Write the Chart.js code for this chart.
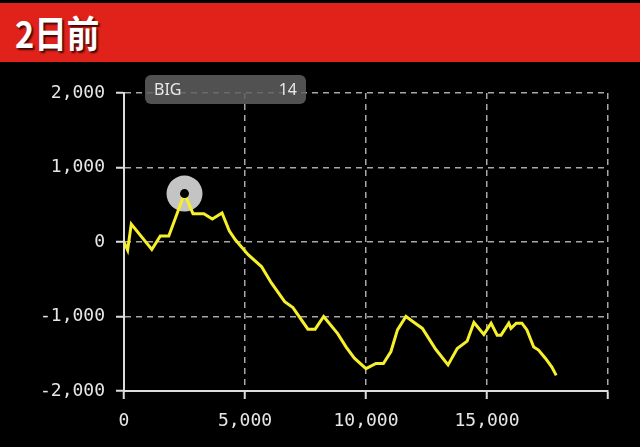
<!DOCTYPE html>
<html><head><meta charset="utf-8">
<script src="https://cdn.jsdelivr.net/npm/chart.js@4"></script>
<style>
html,body{margin:0;padding:0;background:#000;width:640px;height:447px;overflow:hidden;}
#hdr{position:absolute;left:0;top:3px;width:640px;height:59px;background:#e0221a;}
#ttl{position:absolute;left:15px;top:11px;color:#fff;font-weight:bold;font-size:37px;font-family:"Noto Sans CJK JP",sans-serif;transform:scaleX(0.88);transform-origin:left top;text-shadow:2px 2px 2px rgba(0,0,0,0.75);line-height:1;}
#wrap{position:absolute;left:0;top:62px;width:640px;height:385px;}
</style></head>
<body>
<div id="hdr"><div id="ttl">2日前</div></div>
<div id="wrap"><canvas id="c"></canvas></div>
<script>
const games = [0,150,300,1150,1500,1850,2500,2850,3300,3650,4050,4350,4600,5130,5680,6090,6640,6980,7600,7900,8250,8830,9180,9520,10000,10410,10720,11030,11300,11650,11990,12330,12880,13390,13770,14180,14460,14870,15170,15420,15580,15900,15990,16210,16440,16650,16930,17130,17410,17680,17860];
const diff = [0,-110,240,-100,80,80,650,380,380,310,390,150,30,-170,-330,-550,-800,-880,-1170,-1170,-1000,-1230,-1410,-1560,-1700,-1630,-1630,-1470,-1180,-1000,-1080,-1160,-1440,-1650,-1430,-1330,-1080,-1240,-1090,-1250,-1250,-1090,-1160,-1090,-1090,-1180,-1410,-1450,-1560,-1680,-1790];
const xTicks = [0,5000,10000,15000,20000];
const xLabels = ['0','5,000','10,000','15,000',''];
const yTicks = [-2000,-1000,0,1000,2000];
const yLabels = ['-2,000','-1,000','0','1,000','2,000'];
const markerIndex = 6;
const tipLabel = 'BIG';
const tipValue = '14';

const points = games.map((g,i)=>({x:g,y:diff[i]}));
const marker = [{x:games[markerIndex], y:diff[markerIndex]}];

const tickFont = {family:'"DejaVu Sans Mono", monospace', size:18};

const tipPlugin = {
  id:'tip',
  afterDatasetsDraw(chart){
    const {ctx, chartArea:a} = chart;
    const x = a.left+21, y = a.top-18, w = 161, h = 29;
    ctx.save();
    ctx.fillStyle = 'rgba(95,95,95,0.85)';
    ctx.beginPath(); ctx.roundRect(x,y,w,h,6); ctx.fill();
    ctx.fillStyle = '#e8e8e8';
    ctx.font = '16px "Noto Sans", sans-serif';
    ctx.textBaseline = 'middle';
    ctx.textAlign = 'left'; ctx.fillText(tipLabel, x+9, y+h/2+1);
    ctx.textAlign = 'right'; ctx.fillText(tipValue, x+w-9, y+h/2+1);
    ctx.restore();
  }
};

new Chart(document.getElementById('c'), {
  type:'line',
  data:{datasets:[
    {data:marker, type:'scatter', order:0, pointRadius:4.5, pointBackgroundColor:'#000', pointBorderWidth:0, pointHoverRadius:4.5},
    {data:points, order:1, borderColor:'#f6ef2c', borderWidth:3, pointRadius:0, tension:0, fill:false},
    {data:marker, type:'scatter', order:2, pointRadius:18, pointBackgroundColor:'#c4c4c4', pointBorderWidth:0, pointHoverRadius:18}
  ]},
  options:{
    responsive:true, maintainAspectRatio:false, animation:false, devicePixelRatio:1,
    layout:{padding:{top:31,right:32,left:0,bottom:0}},
    plugins:{legend:{display:false}, tooltip:{enabled:false}},
    events:[],
    scales:{
      x:{type:'linear', min:0, max:20000,
        afterBuildTicks:s=>{s.ticks = xTicks.map(v=>({value:v}));},
        ticks:{color:'#e6e6e6', font:tickFont, padding:12, maxRotation:0, autoSkip:false,
          callback:(v)=>xLabels[xTicks.indexOf(v)]},
        grid:{color:'#a8a8a8', lineWidth:1.5, tickColor:'#dddddd', tickLength:8, tickWidth:2, tickBorderDash:[]},
        border:{color:'#dddddd', width:2, dash:[6,5]},
        afterFit:s=>{s.height = 56;}
      },
      y:{min:-2000, max:2000,
        afterBuildTicks:s=>{s.ticks = yTicks.map(v=>({value:v}));},
        ticks:{color:'#e6e6e6', font:tickFont, padding:11,
          callback:(v)=>yLabels[yTicks.indexOf(v)]},
        grid:{color:'#a8a8a8', lineWidth:1.5, tickColor:'#dddddd', tickLength:8, tickWidth:2, tickBorderDash:[]},
        border:{color:'#dddddd', width:2, dash:[6,5]},
        afterFit:s=>{s.width = 124;}
      }
    }
  },
  plugins:[tipPlugin]
});
</script>
</body></html>
